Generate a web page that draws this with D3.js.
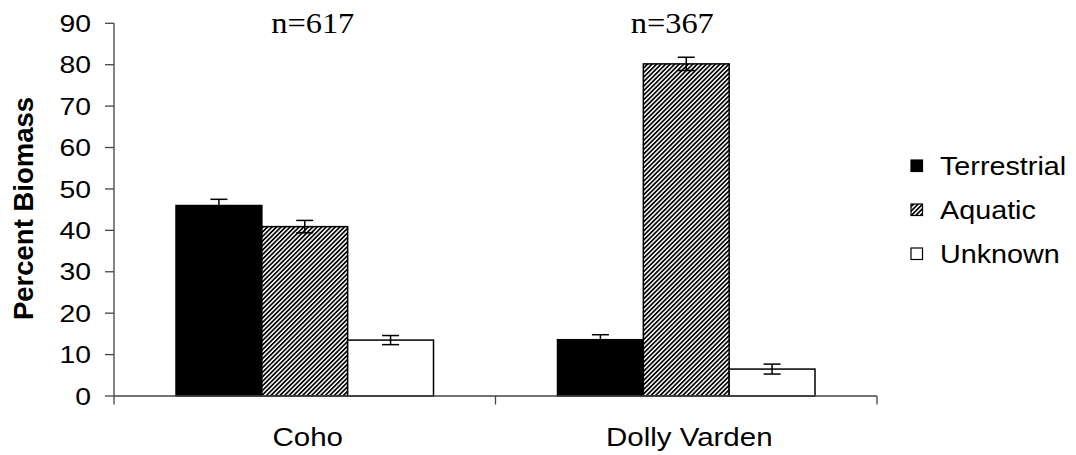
<!DOCTYPE html>
<html>
<head>
<meta charset="utf-8">
<script src="https://cdn.jsdelivr.net/npm/d3@7"></script>
<style>
  html, body { margin: 0; padding: 0; background: #fff; }
  svg { display: block; }
</style>
</head>
<body>
<svg id="chart" width="1076" height="455"></svg>
<script>
// Fish species and diet sources
const species = ["Coho", "Dolly Varden"];
const sources = ["Terrestrial", "Aquatic", "Unknown"];
const sampleSizes = ["n=617", "n=367"];

// Percent biomass per source, one entry per species
const terrestrial = [46.0, 13.6];
const aquatic = [40.9, 80.2];
const unknown = [13.5, 6.5];

// Standard errors
const terrestrialErr = [1.5, 1.2];
const aquaticErr = [1.5, 1.6];
const unknownErr = [1.1, 1.2];

const yTicks = [0, 10, 20, 30, 40, 50, 60, 70, 80, 90];

const values = [terrestrial, aquatic, unknown];
const errors = [terrestrialErr, aquaticErr, unknownErr];

const svg = d3.select("#chart");
const sx = 1.18; // horizontal stretch applied to the sans-serif labels

// Scales
const y = d3.scaleLinear().domain([0, 90]).range([396, 23.3]);
const x0 = d3.scaleBand().domain(species).range([114, 877]).paddingInner(0).paddingOuter(0);
const groupPad = 62;
const x1 = d3.scaleBand().domain(sources)
  .range([groupPad, x0.bandwidth() - groupPad]).padding(0);

// Diagonal hatch fill
const defs = svg.append("defs");
const pat = defs.append("pattern")
  .attr("id", "hatch")
  .attr("patternUnits", "userSpaceOnUse")
  .attr("width", 3.2).attr("height", 10)
  .attr("patternTransform", "rotate(45)");
pat.append("rect").attr("width", 3.2).attr("height", 10).attr("fill", "#fff");
pat.append("rect").attr("width", 1.7).attr("height", 10).attr("fill", "#000");

const fills = { Terrestrial: "#000", Aquatic: "url(#hatch)", Unknown: "#fff" };

// Bars
const rows = [];
species.forEach((sp, i) => {
  sources.forEach((src, j) => {
    rows.push({ sp, src, v: values[j][i], e: errors[j][i] });
  });
});

const g = svg.append("g");
g.selectAll("rect.bar").data(rows).enter().append("rect")
  .attr("class", "bar")
  .attr("x", d => x0(d.sp) + x1(d.src))
  .attr("y", d => y(d.v))
  .attr("width", x1.bandwidth())
  .attr("height", d => y(0) - y(d.v))
  .attr("fill", d => fills[d.src])
  .attr("stroke", "#000")
  .attr("stroke-width", 1.5);

// Error bars
const capW = 8.5;
const eb = g.selectAll("g.err").data(rows).enter().append("g").attr("class", "err")
  .attr("stroke", "#000").attr("stroke-width", 1.5);
eb.append("line")
  .attr("x1", d => x0(d.sp) + x1(d.src) + x1.bandwidth() / 2)
  .attr("x2", d => x0(d.sp) + x1(d.src) + x1.bandwidth() / 2)
  .attr("y1", d => y(d.v - d.e)).attr("y2", d => y(d.v + d.e));
[1, -1].forEach(s => {
  eb.append("line")
    .attr("x1", d => x0(d.sp) + x1(d.src) + x1.bandwidth() / 2 - capW)
    .attr("x2", d => x0(d.sp) + x1(d.src) + x1.bandwidth() / 2 + capW)
    .attr("y1", d => y(d.v + s * d.e)).attr("y2", d => y(d.v + s * d.e));
});

// Y axis
const yAxis = svg.append("g").attr("transform", "translate(114,0)");
yAxis.append("line").attr("x1", 0).attr("x2", 0).attr("y1", y(90)).attr("y2", y(0))
  .attr("stroke", "#444").attr("stroke-width", 1.3);
yAxis.selectAll("line.tick").data(yTicks).enter().append("line")
  .attr("class", "tick")
  .attr("x1", -9).attr("x2", 0)
  .attr("y1", d => y(d)).attr("y2", d => y(d))
  .attr("stroke", "#444").attr("stroke-width", 1.3);
yAxis.selectAll("text").data(yTicks).enter().append("text")
  .attr("transform", d => `translate(-23,${y(d) + 8.6}) scale(${sx},1)`)
  .attr("text-anchor", "end")
  .attr("font-family", "Liberation Sans, Arial, sans-serif")
  .attr("font-size", 24)
  .attr("fill", "#000")
  .text(d => d);

// X axis
const xAxis = svg.append("g");
xAxis.append("line").attr("x1", 114).attr("x2", 877).attr("y1", y(0)).attr("y2", y(0))
  .attr("stroke", "#444").attr("stroke-width", 1.3);
const xTickPos = [x0.range()[0], ...species.map(s => x0(s) + x0.bandwidth())];
xAxis.selectAll("line.tick").data(xTickPos).enter().append("line")
  .attr("class", "tick")
  .attr("x1", d => d).attr("x2", d => d)
  .attr("y1", y(0)).attr("y2", y(0) + 8.5)
  .attr("stroke", "#444").attr("stroke-width", 1.3);
xAxis.selectAll("text").data(species).enter().append("text")
  .attr("transform", d => `translate(${x0(d) + x0.bandwidth() / 2 + 3},446) scale(${sx},1)`)
  .attr("text-anchor", "middle")
  .attr("font-family", "Liberation Sans, Arial, sans-serif")
  .attr("font-size", 25)
  .attr("fill", "#000")
  .text(d => d);

// Y axis title
svg.append("text")
  .attr("transform", "translate(33,208.5) rotate(-90)")
  .attr("text-anchor", "middle")
  .attr("font-family", "Liberation Sans, Arial, sans-serif")
  .attr("font-weight", "bold")
  .attr("font-size", 27.5)
  .attr("fill", "#000")
  .text("Percent Biomass");

// Sample sizes above each group
const nOffsets = [8, -14];
svg.selectAll("text.n").data(species).enter().append("text")
  .attr("class", "n")
  .attr("transform", (d, i) => `translate(${x0(d) + x0.bandwidth() / 2 + nOffsets[i]},33) scale(1.1,1)`)
  .attr("text-anchor", "middle")
  .attr("font-family", "Liberation Serif, 'Times New Roman', serif")
  .attr("font-size", 29.5)
  .attr("fill", "#000")
  .text((d, i) => sampleSizes[i]);

// Legend
const legendY = [166, 210, 254];
const leg = svg.selectAll("g.leg").data(sources).enter().append("g")
  .attr("class", "leg")
  .attr("transform", (d, i) => `translate(911,${legendY[i]})`);
leg.append("rect")
  .attr("x", 0).attr("y", -6).attr("width", 11.5).attr("height", 11.5)
  .attr("fill", d => fills[d])
  .attr("stroke", "#000").attr("stroke-width", 1.2);
leg.append("text")
  .attr("transform", `translate(29,9) scale(1.15,1)`)
  .attr("font-family", "Liberation Sans, Arial, sans-serif")
  .attr("font-size", 25)
  .attr("fill", "#000")
  .text(d => d);
</script>
</body>
</html>
